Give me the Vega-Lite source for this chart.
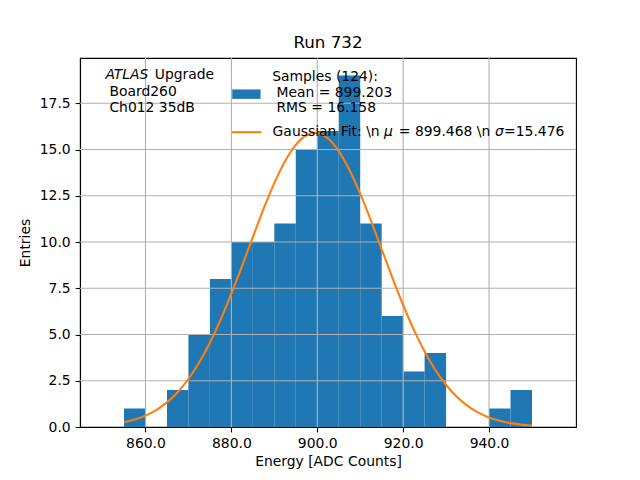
{
  "$schema": "https://vega.github.io/schema/vega-lite/v6.json",
  "autosize": "none",
  "width": 496,
  "height": 369,
  "padding": {"left": 80, "top": 58, "right": 64, "bottom": 53},
  "background": "white",
  "title": {
    "text": "Run 732",
    "fontSize": 16.7,
    "fontWeight": "normal",
    "font": "DejaVu Sans",
    "color": "black",
    "offset": 6
  },
  "datasets": {
    "hist": [
      {"lo": 855, "hi": 860, "count": 1},
      {"lo": 865, "hi": 870, "count": 2},
      {"lo": 870, "hi": 875, "count": 5},
      {"lo": 875, "hi": 880, "count": 8},
      {"lo": 880, "hi": 885, "count": 10},
      {"lo": 885, "hi": 890, "count": 10},
      {"lo": 890, "hi": 895, "count": 11},
      {"lo": 895, "hi": 900, "count": 15},
      {"lo": 900, "hi": 905, "count": 16},
      {"lo": 905, "hi": 910, "count": 19},
      {"lo": 910, "hi": 915, "count": 11},
      {"lo": 915, "hi": 920, "count": 6},
      {"lo": 920, "hi": 925, "count": 3},
      {"lo": 925, "hi": 930, "count": 4},
      {"lo": 940, "hi": 945, "count": 1},
      {"lo": 945, "hi": 950, "count": 2}
    ],
    "fit": [
      {"e": 855, "g": 0.256},
      {"e": 857.5, "g": 0.402},
      {"e": 860, "g": 0.615},
      {"e": 862.5, "g": 0.917},
      {"e": 865, "g": 1.331},
      {"e": 867.5, "g": 1.883},
      {"e": 870, "g": 2.595},
      {"e": 872.5, "g": 3.483},
      {"e": 875, "g": 4.556},
      {"e": 877.5, "g": 5.806},
      {"e": 880, "g": 7.208},
      {"e": 882.5, "g": 8.717},
      {"e": 885, "g": 10.271},
      {"e": 887.5, "g": 11.791},
      {"e": 890, "g": 13.186},
      {"e": 892.5, "g": 14.367},
      {"e": 895, "g": 15.251},
      {"e": 897.5, "g": 15.772},
      {"e": 899.5, "g": 15.9},
      {"e": 900, "g": 15.891},
      {"e": 902.5, "g": 15.598},
      {"e": 905, "g": 14.916},
      {"e": 907.5, "g": 13.897},
      {"e": 910, "g": 12.613},
      {"e": 912.5, "g": 11.154},
      {"e": 915, "g": 9.609},
      {"e": 917.5, "g": 8.065},
      {"e": 920, "g": 6.595},
      {"e": 922.5, "g": 5.253},
      {"e": 925, "g": 4.077},
      {"e": 927.5, "g": 3.082},
      {"e": 930, "g": 2.271},
      {"e": 932.5, "g": 1.629},
      {"e": 935, "g": 1.139},
      {"e": 937.5, "g": 0.776},
      {"e": 940, "g": 0.515},
      {"e": 942.5, "g": 0.333},
      {"e": 945, "g": 0.21},
      {"e": 947.5, "g": 0.129},
      {"e": 950, "g": 0.077}
    ],
    "gridx": [{"v": 860}, {"v": 880}, {"v": 900}, {"v": 920}, {"v": 940}],
    "gridy": [
      {"v": 2.5}, {"v": 5}, {"v": 7.5}, {"v": 10},
      {"v": 12.5}, {"v": 15}, {"v": 17.5}
    ],
    "notes": [
      {"x": 862.16, "y": 19.05, "t": "Upgrade"},
      {"x": 851.6, "y": 18.11, "t": "Board260"},
      {"x": 851.6, "y": 17.27, "t": "Ch012 35dB"},
      {"x": 889.5, "y": 18.93, "t": "Samples (124):"},
      {"x": 890.5, "y": 18.08, "t": "Mean = 899.203"},
      {"x": 890.5, "y": 17.22, "t": "RMS = 16.158"},
      {"x": 889.6, "y": 15.94, "t": "Gaussian Fit: \\n"},
      {"x": 919.0, "y": 15.94, "t": "= 899.468 \\n"},
      {"x": 943.5, "y": 15.94, "t": "=15.476"}
    ],
    "italics": [
      {"x": 850.66, "y": 19.05, "t": "ATLAS"},
      {"x": 915.55, "y": 15.94, "t": "μ"},
      {"x": 941.4, "y": 15.94, "t": "σ"}
    ],
    "keys": [
      {"x": 880.2, "x2": 886.8, "y": 18.25, "y2": 17.74, "s": "Samples"}
    ],
    "linekey": [
      {"x": 880.1, "x2": 887.0, "y": 15.94, "s": "Gaussian Fit"}
    ]
  },
  "layer": [
    {
      "data": {"name": "hist"},
      "mark": {"type": "rect", "color": "#1f77b4"},
      "encoding": {
        "x": {
          "field": "lo",
          "type": "quantitative",
          "title": "Energy [ADC Counts]",
          "scale": {"domain": [844.75, 960.25], "nice": false, "zero": false},
          "axis": {
            "values": [860, 880, 900, 920, 940],
            "format": ".1f",
            "titlePadding": 4
          }
        },
        "x2": {"field": "hi"},
        "y": {
          "field": "count",
          "type": "quantitative",
          "title": "Entries",
          "scale": {"domain": [0, 19.95], "nice": false},
          "axis": {
            "values": [0, 2.5, 5, 7.5, 10, 12.5, 15, 17.5],
            "format": ".1f",
            "titlePadding": 7
          }
        },
        "y2": {"datum": 0}
      }
    },
    {
      "data": {"name": "gridx"},
      "mark": {"type": "rule", "color": "#b0b0b0", "strokeWidth": 1.1},
      "encoding": {"x": {"field": "v", "type": "quantitative", "title": "Energy [ADC Counts]"}}
    },
    {
      "data": {"name": "gridy"},
      "mark": {"type": "rule", "color": "#b0b0b0", "strokeWidth": 1.1},
      "encoding": {"y": {"field": "v", "type": "quantitative", "title": "Entries"}}
    },
    {
      "data": {"name": "fit"},
      "mark": {"type": "line", "color": "#ff7f0e", "strokeWidth": 2.1, "interpolate": "monotone"},
      "encoding": {
        "x": {"field": "e", "type": "quantitative", "title": "Energy [ADC Counts]"},
        "y": {"field": "g", "type": "quantitative", "title": "Entries"}
      }
    },
    {
      "data": {"name": "keys"},
      "mark": {"type": "rect", "color": "#1f77b4"},
      "encoding": {
        "x": {"field": "x", "type": "quantitative", "title": "Energy [ADC Counts]"},
        "x2": {"field": "x2"},
        "y": {"field": "y", "type": "quantitative", "title": "Entries"},
        "y2": {"field": "y2"}
      }
    },
    {
      "data": {"name": "linekey"},
      "mark": {"type": "rule", "color": "#ff7f0e", "strokeWidth": 2.1},
      "encoding": {
        "x": {"field": "x", "type": "quantitative", "title": "Energy [ADC Counts]"},
        "x2": {"field": "x2"},
        "y": {"field": "y", "type": "quantitative", "title": "Entries"}
      }
    },
    {
      "data": {"name": "notes"},
      "mark": {
        "type": "text",
        "align": "left",
        "baseline": "middle",
        "font": "DejaVu Sans",
        "fontSize": 13.9,
        "color": "black"
      },
      "encoding": {
        "x": {"field": "x", "type": "quantitative", "title": "Energy [ADC Counts]"},
        "y": {"field": "y", "type": "quantitative", "title": "Entries"},
        "text": {"field": "t"}
      }
    },
    {
      "data": {"name": "italics"},
      "mark": {
        "type": "text",
        "align": "left",
        "baseline": "middle",
        "font": "DejaVu Sans",
        "fontStyle": "italic",
        "fontSize": 13.9,
        "color": "black"
      },
      "encoding": {
        "x": {"field": "x", "type": "quantitative", "title": "Energy [ADC Counts]"},
        "y": {"field": "y", "type": "quantitative", "title": "Entries"},
        "text": {"field": "t"}
      }
    }
  ],
  "config": {
    "view": {"stroke": "black", "strokeWidth": 1.1},
    "axis": {
      "grid": false,
      "zindex": 1,
      "domainColor": "black",
      "domainWidth": 1.1,
      "tickColor": "black",
      "tickWidth": 1.1,
      "tickSize": 4.9,
      "labelPadding": 4.9,
      "labelFont": "DejaVu Sans",
      "labelFontSize": 13.9,
      "labelColor": "black",
      "titleFont": "DejaVu Sans",
      "titleFontSize": 13.9,
      "titleFontWeight": "normal",
      "titleColor": "black",
      "labelFlush": false,
      "labelOverlap": false
    }
  }
}
